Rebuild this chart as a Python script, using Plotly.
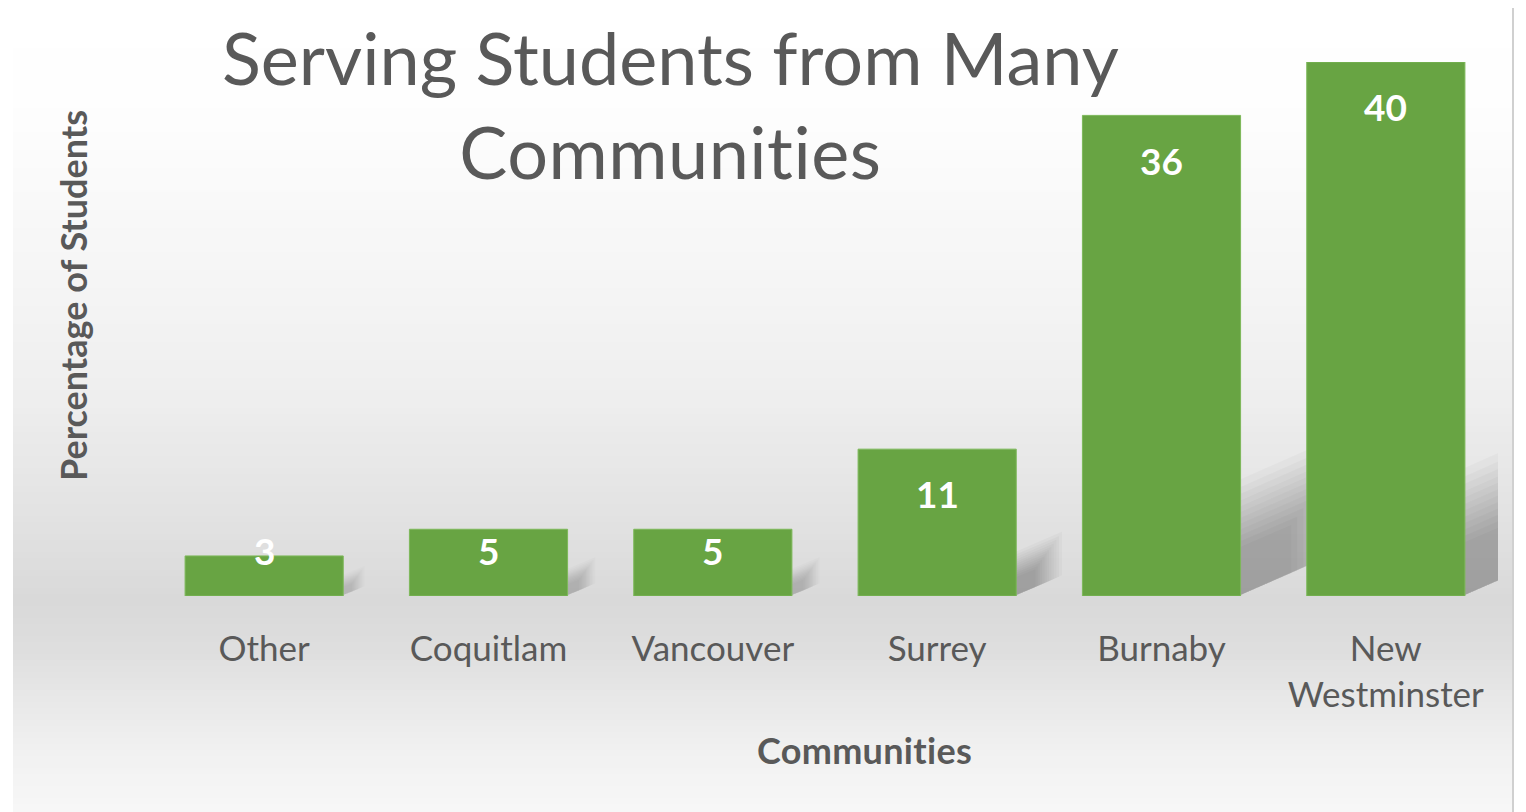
import plotly.graph_objects as go

categories = ["Other", "Coquitlam", "Vancouver", "Surrey", "Burnaby", "New<br>Westminster"]
values = [3, 5, 5, 11, 36, 40]
title_text = "Serving Students from Many<br><span style='letter-spacing:0.5px'>Communities</span>"
x_title = "<span style='letter-spacing:0.3px'>Communities</span>"
y_title = "Percentage of Students"

OFF = 8  # page body margin
W, H = 1526 - OFF, 812 - OFF
ML, MR, MT, MB = 152 - OFF, 28, 62 - OFF, 216
PW, PH = W - ML - MR, H - MT - MB
BAR_W = 0.705
Y_MAX = 40
XU = PW / len(categories)   # px per x unit
YU = PH / Y_MAX             # px per y unit

def px_to_paper_x(sx):
    return (sx - OFF - ML) / PW

def px_to_paper_y(sy):
    return (H - MB - (sy - OFF)) / PH

fig = go.Figure()
fig.add_trace(go.Bar(
    x=list(range(len(categories))),
    y=values,
    marker=dict(color="#68a443", line=dict(color="#7db85a", width=1)),
    width=BAR_W,
    hoverinfo="skip",
))

# background gradient (stripes)
stops = [(0, 255), (100, 254), (200, 249), (300, 244), (400, 238), (500, 228), (600, 217), (650, 222), (700, 232), (760, 242), (812, 247)]
def shade(py):
    for (a, ca), (b, cb) in zip(stops, stops[1:]):
        if a <= py <= b:
            t = (py - a) / (b - a)
            return round(ca + (cb - ca) * t)
    return stops[-1][1]

shapes = []
step = 6
for py in range(0, 812, step):
    c = shade(py + step / 2)
    shapes.append(dict(type="rect", xref="paper", yref="paper",
                       x0=px_to_paper_x(13), x1=px_to_paper_x(1513),
                       y0=px_to_paper_y(py + step + 0.5), y1=px_to_paper_y(py),
                       fillcolor=f"rgb({c},{c},{c})", line=dict(width=0), layer="below"))
shapes.append(dict(type="line", xref="paper", yref="paper",
                   x0=px_to_paper_x(1513), x1=px_to_paper_x(1513),
                   y0=px_to_paper_y(812), y1=px_to_paper_y(3),
                   line=dict(color="#d0d0d0", width=2)))

# soft drop shadows to the right of each bar (many faint layers to fake a blur)
factors = [1.2, 1.12, 1.05, 0.98, 0.92, 0.86, 0.8, 0.74, 0.68, 0.62, 0.56, 0.5]
for i, v in enumerate(values):
    xr = i + BAR_W / 2
    d_px = 10 + 0.18 * v * YU
    alpha = 0.025 * min(1.0, 0.35 + v / 20)
    for f in factors:
        d = d_px * f
        s = d * 1.05
        rise = 0.45 * s
        pts = [
            (xr - 0.01, 0),
            (xr - 0.01, d / YU),
            (xr + s / XU, (d + rise) / YU),
            (xr + s / XU, rise / YU),
        ]
        path = "M " + " L ".join(f"{x:.4f},{y:.4f}" for x, y in pts) + " Z"
        shapes.append(dict(type="path", xref="x", yref="y", path=path,
                           fillcolor=f"rgba(0,0,0,{alpha:.4f})", line=dict(width=0), layer="below"))

annotations = []
for i, v in enumerate(values):
    annotations.append(dict(x=i, y=max(v - 3.35, 3.4), xref="x", yref="y",
                            text=str(v), showarrow=False, yanchor="middle",
                            font=dict(family="Lato", size=37, color="white", weight="bold")))

annotations.append(dict(x=px_to_paper_x(670), y=px_to_paper_y(104), xref="paper", yref="paper",
                        text=title_text, showarrow=False, xanchor="center", yanchor="middle",
                        font=dict(family="Lato", size=72, color="#595959", weight=400)))
annotations.append(dict(x=px_to_paper_x(864), y=px_to_paper_y(750), xref="paper", yref="paper",
                        text=x_title, showarrow=False, xanchor="center", yanchor="middle",
                        font=dict(family="Lato", size=36, color="#595959", weight="bold")))
annotations.append(dict(x=px_to_paper_x(73), y=px_to_paper_y(296), xref="paper", yref="paper",
                        text=y_title, showarrow=False, textangle=-90, xanchor="center", yanchor="middle",
                        font=dict(family="Lato", size=36, color="#595959", weight="bold")))

fig.update_layout(
    width=W, height=H,
    margin=dict(l=ML, r=MR, t=MT, b=MB, pad=0),
    paper_bgcolor="white",
    plot_bgcolor="rgba(0,0,0,0)",
    showlegend=False,
    shapes=shapes,
    annotations=annotations,
    xaxis=dict(range=[-0.5, len(categories) - 0.5], tickmode="array",
               tickvals=list(range(len(categories))), ticktext=categories,
               showgrid=False, zeroline=False, showline=False,
               ticks="outside", ticklen=22, tickcolor="rgba(0,0,0,0)",
               tickfont=dict(family="Lato", size=35, color="#595959")),
    yaxis=dict(range=[0, Y_MAX], showticklabels=False, showgrid=False, zeroline=False,
               showline=False),
)

fig.write_html("out.html")
